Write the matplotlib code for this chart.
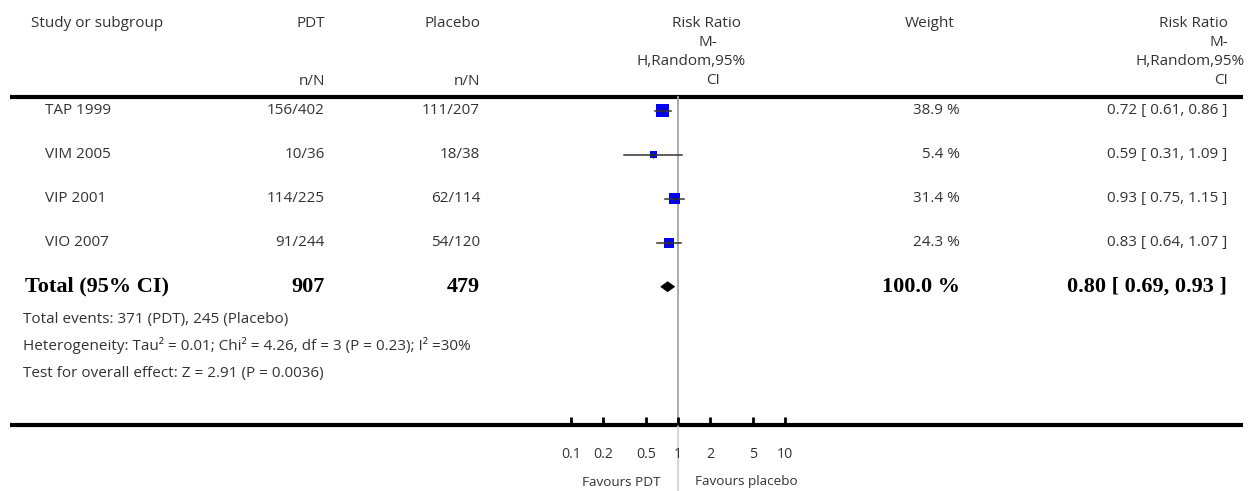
import numpy as np
import matplotlib
matplotlib.use("Agg")
import matplotlib.pyplot as plt
from matplotlib.patches import Polygon

# ---- data -------------------------------------------------------------
studies = ["TAP 1999", "VIM 2005", "VIP 2001", "VIO 2007"]
pdt_nN = ["156/402", "10/36", "114/225", "91/244"]
placebo_nN = ["111/207", "18/38", "62/114", "54/120"]
weights = [38.9, 5.4, 31.4, 24.3]
rr = [0.72, 0.59, 0.93, 0.83]
rr_lo = [0.61, 0.31, 0.75, 0.64]
rr_hi = [0.86, 1.09, 1.15, 1.07]

total_label = "Total (95% CI)"
total_pdt = "907"
total_placebo = "479"
total_weight = 100.0
total_rr, total_lo, total_hi = 0.80, 0.69, 0.93

footer_lines = [
    "Total events: 371 (PDT), 245 (Placebo)",
    "Heterogeneity: Tau² = 0.01; Chi² = 4.26, df = 3 (P = 0.23); I² =30%",
    "Test for overall effect: Z = 2.91 (P = 0.0036)",
]
scale_ticks = [0.1, 0.2, 0.5, 1, 2, 5, 10]
scale_labels = ["0.1", "0.2", "0.5", "1", "2", "5", "10"]
favours_left = "Favours PDT"
favours_right = "Favours placebo"

# ---- layout -----------------------------------------------------------
W, H = 1258, 491
DPI = 100
SANS = ["Open Sans", "DejaVu Sans"]
SERIF = ["Liberation Serif", "DejaVu Serif"]
FS = 11.0
BFS = 16
TXT = "#333333"

x_null = 678.0      # pixel of RR = 1
decade = 107.0      # pixels per decade
row0, row_step = 110.7, 44.0

fig = plt.figure(figsize=(W / DPI, H / DPI), dpi=DPI)

# text layer in pixel coordinates
tx = fig.add_axes([0, 0, 1, 1])
tx.set_xlim(0, W)
tx.set_ylim(H, 0)
tx.axis("off")

# forest layer: log x, rows on y
fx = fig.add_axes([0, 0, 1, 1], facecolor="none")
fx.set_xscale("log")
fx.set_xlim(10 ** (-x_null / decade), 10 ** ((W - x_null) / decade))
fx.set_ylim((H - row0) / row_step, -row0 / row_step)
fx.axis("off")


def row_y(i):
    return row0 + row_step * i


def sans(x, y, s, ha="left", size=FS):
    tx.text(x, y, s, ha=ha, va="center", fontsize=size, family=SANS, color=TXT)


def bold(x, y, s, ha="left"):
    tx.text(x, y, s, ha=ha, va="center", fontsize=BFS, family=SERIF, weight="bold", color="black")


# header
hy1, hy_nN = 23, 81
sans(31, hy1, "Study or subgroup")
sans(325, hy1, "PDT", "right")
sans(480, hy1, "Placebo", "right")
sans(325, hy_nN, "n/N", "right")
sans(480, hy_nN, "n/N", "right")
for txt, cx, yy in [("Risk Ratio", 706, 23), ("M-", 708, 42), ("H,Random,95%", 691, 61), ("CI", 713, 80)]:
    sans(cx, yy, txt, "center")
sans(905, hy1, "Weight")
for txt, rx, yy in [("Risk Ratio", 1228, 23), ("M-", 1228, 42), ("H,Random,95%", 1245, 61), ("CI", 1228, 80)]:
    sans(rx, yy, txt, "right")

# rules
tx.plot([10, 1243], [96.5, 96.5], color="black", lw=3.0, solid_capstyle="butt")
tx.plot([10, 1243], [425.3, 425.3], color="black", lw=3.0, solid_capstyle="butt")

# line of no effect
fx.plot([1, 1], [(97 - row0) / row_step, (425 - row0) / row_step], color="#a6a6a6", lw=1.3)
fx.plot([1, 1], [(427 - row0) / row_step, (H - row0) / row_step], color="#d4d4d4", lw=1.3)

# study rows
for i, name in enumerate(studies):
    y = row_y(i)
    sans(45, y, name)
    sans(325, y, pdt_nN[i], "right")
    sans(480, y, placebo_nN[i], "right")
    sans(960, y, f"{weights[i]:.1f} %", "right")
    sans(1227, y, f"{rr[i]:.2f} [ {rr_lo[i]:.2f}, {rr_hi[i]:.2f} ]", "right")

    side_px = max(7.0, 2.05 * np.sqrt(weights[i]))
    fx.scatter([rr[i]], [i], marker="s", s=(side_px * 72 / DPI) ** 2, color="#0000ff",
               edgecolors="none", zorder=3)
    fx.plot([rr_lo[i], rr_hi[i]], [i, i], color="#333333", lw=1.1, zorder=4)
    fx.plot([rr[i]], [i], marker="|", ms=5, mew=1.0, color="#222222", zorder=5)

# total row
ti = len(studies)
ty = row_y(ti)
bold(25, ty, total_label)
bold(325, ty, total_pdt, "right")
bold(480, ty, total_placebo, "right")
bold(960, ty, f"{total_weight:.1f} %", "right")
bold(1227, ty, f"{total_rr:.2f} [ {total_lo:.2f}, {total_hi:.2f} ]", "right")
dh = 5.0 / row_step
fx.add_patch(Polygon([(total_lo, ti), (total_rr, ti - dh), (total_hi, ti), (total_rr, ti + dh)],
                     closed=True, facecolor="black", edgecolor="black", lw=0.5, zorder=4))

# footer
for k, line in enumerate(footer_lines):
    sans(23, 319 + 27 * k, line)

# scale
sx = fig.add_axes([10 / W, 1 - 425.3 / H, 1233 / W, 0.02], facecolor="none")
sx.set_xscale("log")
sx.set_xlim(10 ** ((10 - x_null) / decade), 10 ** ((1243 - x_null) / decade))
for s in ["top", "left", "right", "bottom"]:
    sx.spines[s].set_visible(False)
sx.set_yticks([])
sx.set_xticks(scale_ticks)
sx.set_xticklabels(scale_labels, family=SANS, fontsize=FS - 0.8, color=TXT)
sx.minorticks_off()
sx.tick_params(axis="x", direction="in", length=6, width=2, color="black", pad=15.5)

sans(x_null - 17, 482, favours_left, "right", FS - 1.3)
sans(x_null + 17, 482, favours_right, "left", FS - 1.3)

fig.savefig("out.png", dpi=DPI)
